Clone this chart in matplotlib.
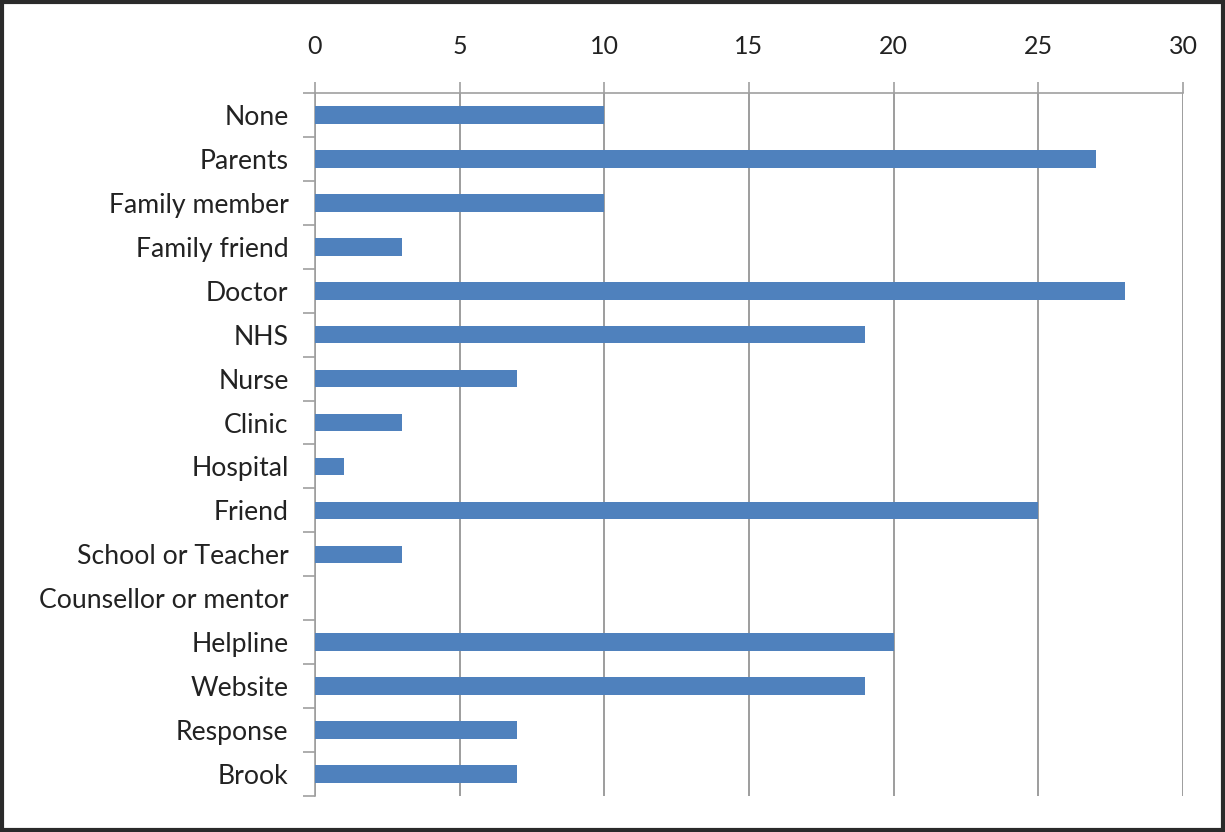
import matplotlib.pyplot as plt
from matplotlib.patches import Rectangle

# Sources of information, counts per source
sources = ['None', 'Parents', 'Family member', 'Family friend', 'Doctor', 'NHS',
           'Nurse', 'Clinic', 'Hospital', 'Friend', 'School or Teacher',
           'Counsellor or mentor', 'Helpline', 'Website', 'Response', 'Brook']
counts = [10, 27, 10, 3, 28, 19, 7, 3, 1, 25, 3, 0, 20, 19, 7, 7]
x_ticks = [0, 5, 10, 15, 20, 25, 30]

plt.rcParams['font.family'] = ['Lato', 'DejaVu Sans']

fig = plt.figure(figsize=(12.25, 8.32), dpi=100)
ax = fig.add_axes([0.2571, 0.0433, 0.7086, 0.8449])

pos = list(range(len(sources)))
ax.barh(pos, counts, height=0.4, color='#4f81bd', zorder=3)

ax.set_ylim(len(sources) - 0.5, -0.5)
ax.set_xlim(0, 30)

# value axis along the top
ax.xaxis.set_ticks_position('top')
ax.set_xticks(x_ticks)
ax.tick_params(axis='x', length=8, color='#a0a0a0', width=1.2, pad=17,
               labelsize=18, labelcolor='#222222')
ax.grid(axis='x', color='#8c8c8c', linewidth=1.2, zorder=0)

# category labels with ticks between categories
ax.set_yticks(pos)
ax.set_yticklabels(sources, fontsize=19.2, color='#222222', va='center_baseline')
ax.set_yticks([p - 0.5 for p in pos] + [len(sources) - 0.5], minor=True)
ax.tick_params(axis='y', which='major', length=0, pad=19)
ax.tick_params(axis='y', which='minor', length=9, color='#a0a0a0', width=1.2)

for side in ['right', 'bottom']:
    ax.spines[side].set_visible(False)
for side in ['left', 'top']:
    ax.spines[side].set_color('#a0a0a0')
    ax.spines[side].set_linewidth(1.2)

# outer frame
fig.patches.append(Rectangle((0.002, 0.002), 0.996, 0.996, transform=fig.transFigure,
                             fill=False, edgecolor='#2a2a2a', linewidth=3))

fig.savefig('out.png', dpi=100)
